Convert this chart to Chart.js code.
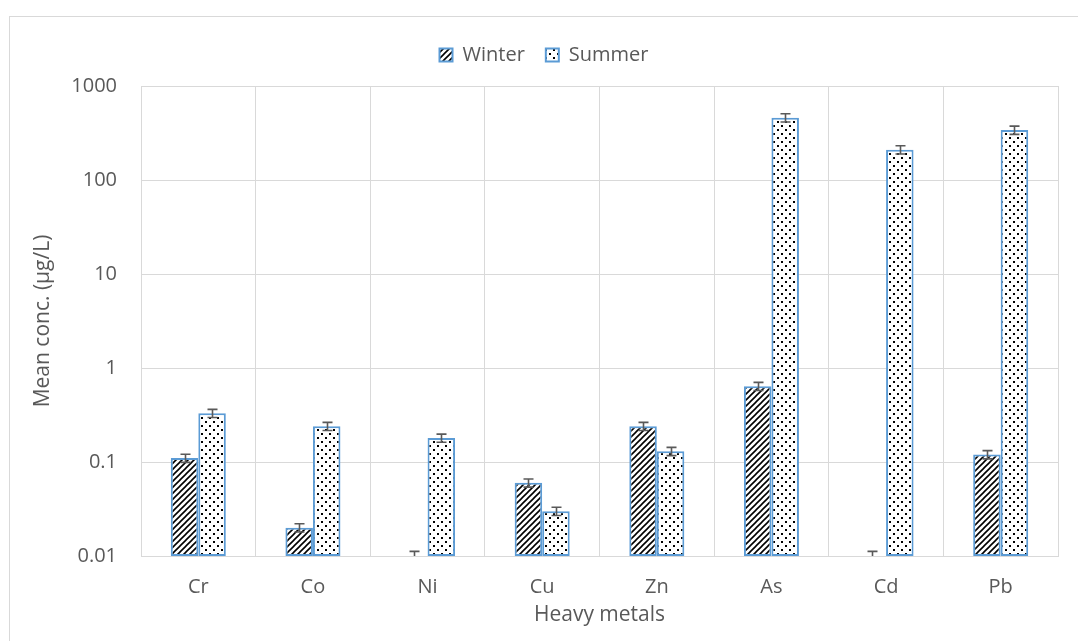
<!DOCTYPE html>
<html>
<head>
<meta charset="utf-8">
<script src="https://cdn.jsdelivr.net/npm/chart.js@4/dist/chart.umd.min.js"></script>
<style>
html,body{margin:0;padding:0;background:#fff;}
#wrap{width:1078px;height:641px;position:relative;}
</style>
</head>
<body>
<div id="wrap"><canvas id="c" width="1078" height="641"></canvas></div>
<script>
const categories = ['Cr','Co','Ni','Cu','Zn','As','Cd','Pb'];
const seriesNames = ['Winter','Summer'];
const winterValues = [0.11, 0.02, 0.01, 0.06, 0.24, 0.64, 0.01, 0.12];
const summerValues = [0.33, 0.24, 0.18, 0.03, 0.13, 460, 210, 340];
const winterErrors = [0.011, 0.002, 0.0012, 0.006, 0.024, 0.064, 0.0012, 0.012];
const summerErrors = [0.033, 0.024, 0.018, 0.003, 0.013, 46, 21, 34];
const yTickValues = [0.01, 0.1, 1, 10, 100, 1000];
const xTitle = 'Heavy metals';
const yTitle = 'Mean conc. (µg/L)';

const FONT = "'Open Sans', sans-serif";
const TEXT = '#595959';
const GRID = '#D9D9D9';
const BLUE = '#5B9BD5';

function hatchPattern(){
  const n = 6, c = document.createElement('canvas');
  c.width = n; c.height = n;
  const g = c.getContext('2d');
  g.fillStyle = '#fff'; g.fillRect(0,0,n,n);
  g.strokeStyle = '#000'; g.lineWidth = 1.6;
  g.beginPath();
  g.moveTo(-1, n+1); g.lineTo(n+1, -1);
  g.moveTo(-1, 1); g.lineTo(1, -1);
  g.moveTo(n-1, n+1); g.lineTo(n+1, n-1);
  g.stroke();
  return g.createPattern(c, 'repeat');
}
function dotPattern(){
  const n = 8, c = document.createElement('canvas');
  c.width = n; c.height = n;
  const g = c.getContext('2d');
  g.fillStyle = '#fff'; g.fillRect(0,0,n,n);
  g.fillStyle = '#000';
  g.fillRect(1,1,2,2);
  g.fillRect(5,5,2,2);
  return g.createPattern(c, 'repeat');
}

const errorBarPlugin = {
  id: 'errorBars',
  afterDatasetsDraw(chart){
    const ctx = chart.ctx, ys = chart.scales.y, area = chart.chartArea;
    const errs = [winterErrors, summerErrors];
    ctx.save();
    ctx.beginPath();
    ctx.rect(area.left, area.top - 10, area.right - area.left, area.bottom - area.top + 10);
    ctx.clip();
    ctx.strokeStyle = '#595959';
    ctx.lineWidth = 1.6;
    chart.data.datasets.forEach((ds, i) => {
      const meta = chart.getDatasetMeta(i);
      meta.data.forEach((bar, j) => {
        const v = ds.data[j], e = errs[i][j];
        const yHi = ys.getPixelForValue(v + e);
        const lo = v - e;
        const yLo = lo > 0 ? ys.getPixelForValue(lo) : area.bottom + 5;
        const x = Math.round(bar.x) + 0.5, w = 5;
        ctx.beginPath();
        ctx.moveTo(x, yHi); ctx.lineTo(x, yLo);
        ctx.moveTo(x - w, yHi); ctx.lineTo(x + w, yHi);
        ctx.moveTo(x - w, yLo); ctx.lineTo(x + w, yLo);
        ctx.stroke();
      });
    });
    ctx.restore();
  }
};

const framePlugin = {
  id: 'frame',
  beforeLayout(chart){
    const lg = chart.legend;
    if (lg && !lg._extraGap){
      const f = lg.fit;
      lg.fit = function(){ f.call(this); this.height += 11; this.bottom = this.top + this.height; };
      lg._extraGap = true;
    }
  },
  beforeDraw(chart){
    const ctx = chart.ctx;
    ctx.save();
    ctx.fillStyle = '#fff';
    ctx.fillRect(0,0,chart.width,chart.height);
    ctx.strokeStyle = GRID;
    ctx.lineWidth = 1;
    ctx.strokeRect(9.5, 16.5, chart.width + 20, chart.height + 20);
    ctx.restore();
  }
};

new Chart(document.getElementById('c'), {
  type: 'bar',
  data: {
    labels: categories,
    datasets: [
      { label: seriesNames[0], data: winterValues, backgroundColor: hatchPattern(), borderColor: BLUE, borderWidth: 2, borderSkipped: false },
      { label: seriesNames[1], data: summerValues, backgroundColor: dotPattern(), borderColor: BLUE, borderWidth: 2, borderSkipped: false }
    ]
  },
  options: {
    responsive: false,
    animation: false,
    devicePixelRatio: 1,
    layout: { padding: { left: 30, right: 20, top: 24, bottom: 13 } },
    datasets: { bar: { categoryPercentage: 0.48, barPercentage: 1.0 } },
    plugins: {
      legend: {
        position: 'top',
        labels: { font: { family: FONT, size: 20 }, color: TEXT, boxWidth: 13, boxHeight: 13, padding: 21 }
      },
      tooltip: { enabled: false }
    },
    scales: {
      x: {
        grid: { color: GRID, lineWidth: 1, drawTicks: false, offset: true },
        border: { color: GRID, width: 1 },
        ticks: { font: { family: FONT, size: 20 }, color: TEXT, padding: 19 },
        title: { display: true, text: xTitle, font: { family: FONT, size: 21 }, color: TEXT, padding: 0 },
        afterFit(s){ s.height = 72; }
      },
      y: {
        type: 'logarithmic',
        min: 0.01, max: 1000,
        grid: { color: GRID, lineWidth: 1, drawTicks: false },
        border: { color: GRID, width: 1 },
        afterBuildTicks(s){ s.ticks = yTickValues.map(v => ({ value: v })); },
        ticks: { font: { family: FONT, size: 20 }, color: TEXT, padding: 24,
          callback: v => String(v) },
        title: { display: true, text: yTitle, font: { family: FONT, size: 21 }, color: TEXT, padding: 0 },
        afterFit(s){ s.width = 111; }
      }
    }
  },
  plugins: [framePlugin, errorBarPlugin]
});
</script>
</body>
</html>
